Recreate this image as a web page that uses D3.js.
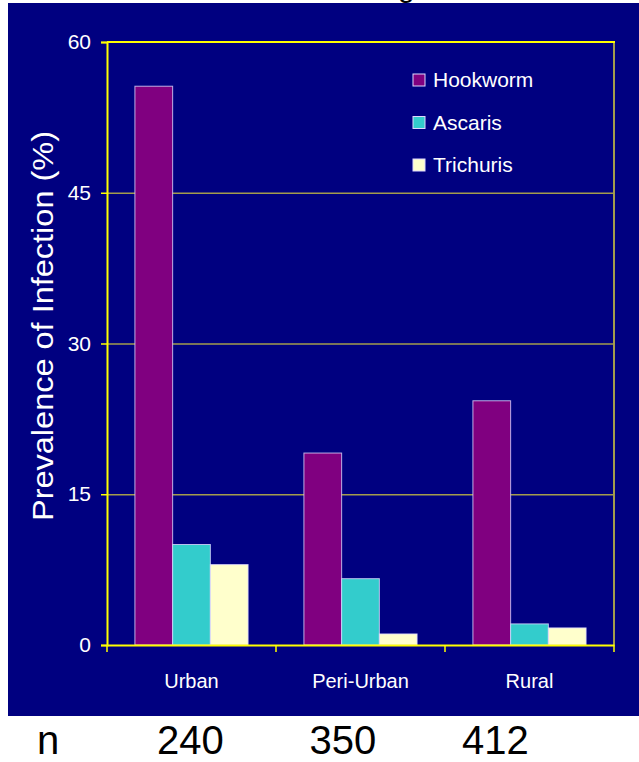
<!DOCTYPE html>
<style>

body {
  margin: 0;
  background: #fff;
}

text {
  font-family: Arial, "Liberation Sans", sans-serif;
}

</style>
<body>
<script src="https://d3js.org/d3.v7.min.js"></script>
<script>

var categories = ["Urban", "Peri-Urban", "Rural"],
    series = ["Hookworm", "Ascaris", "Trichuris"],
    colors = ["#800080", "#33cccc", "#ffffcc"];

var hookworm = [55.6, 19.1, 24.3],
    ascaris = [10.0, 6.6, 2.1],
    trichuris = [8.0, 1.1, 1.7];

var yTicks = [0, 15, 30, 45, 60],
    sampleSizes = [240, 350, 412];

var values = [hookworm, ascaris, trichuris];

var width = 639,
    height = 762;

var svg = d3.select("body").append("svg")
    .attr("width", width)
    .attr("height", height);

// the slide title is cut off, only a descender shows above the panel
svg.append("text")
    .attr("x", 398)
    .attr("y", -3)
    .attr("font-size", 30)
    .attr("fill", "#000")
    .text("g");

svg.append("rect")
    .attr("x", 8)
    .attr("y", 3)
    .attr("width", width - 8)
    .attr("height", 713)
    .attr("fill", "#000080");

var x0 = d3.scaleBand()
    .domain(categories)
    .range([107, 614]);

var x1 = d3.scaleBand()
    .domain(series)
    .range([0, x0.bandwidth()])
    .paddingOuter(0.74);

var y = d3.scaleLinear()
    .domain([0, 60])
    .range([645, 42]);

// gridlines
svg.selectAll(".grid")
    .data(yTicks.filter(function(d) { return d > 0 && d < 60; }))
  .enter().append("line")
    .attr("x1", 107)
    .attr("x2", 614)
    .attr("y1", function(d) { return y(d) + 0.5; })
    .attr("y2", function(d) { return y(d) + 0.5; })
    .attr("stroke", "#a39c4c")
    .attr("stroke-width", 1.5);

// right border
svg.append("line")
    .attr("x1", 614)
    .attr("x2", 614)
    .attr("y1", y(60))
    .attr("y2", y(0))
    .attr("stroke", "#a39c4c")
    .attr("stroke-width", 2);

// top border
svg.append("line")
    .attr("x1", 107)
    .attr("x2", 615)
    .attr("y1", y(60))
    .attr("y2", y(60))
    .attr("stroke", "#ffff00")
    .attr("stroke-width", 2);

// bars
var groups = svg.selectAll(".group")
    .data(categories)
  .enter().append("g")
    .attr("transform", function(d) { return "translate(" + x0(d) + ",0)"; });

groups.selectAll("rect")
    .data(function(d, i) {
      return series.map(function(s, j) { return {s: s, j: j, v: values[j][i]}; });
    })
  .enter().append("rect")
    .attr("x", function(d) { return x1(d.s); })
    .attr("width", x1.bandwidth())
    .attr("y", function(d) { return y(d.v); })
    .attr("height", function(d) { return y(0) - y(d.v); })
    .attr("fill", function(d) { return colors[d.j]; })
    .attr("stroke", "#ddd8ff")
    .attr("stroke-opacity", 0.8)
    .attr("stroke-width", 1);

// y axis
var yAxis = svg.append("g")
    .attr("transform", "translate(107,0)")
    .call(d3.axisLeft(y).tickValues(yTicks).tickSize(6).tickPadding(10));

yAxis.select(".domain").attr("stroke", "#ffff00").attr("stroke-width", 2);
yAxis.selectAll(".tick line").attr("stroke", "#ffff00").attr("stroke-width", 1.5);
yAxis.selectAll(".tick text")
    .attr("fill", "#fff")
    .attr("font-size", 21)
    .attr("font-family", "Arial, 'Liberation Sans', sans-serif");

// x axis
var xAxis = svg.append("g")
    .attr("transform", "translate(0," + y(0) + ")")
    .call(d3.axisBottom(x0).tickSize(0).tickPadding(29));

xAxis.select(".domain").attr("stroke", "#ffff00").attr("stroke-width", 2);
xAxis.selectAll(".tick text")
    .attr("fill", "#fff")
    .attr("font-size", 20)
    .attr("font-family", "Arial, 'Liberation Sans', sans-serif");

// category separators
xAxis.selectAll(".sep")
    .data([107, 276, 445, 614])
  .enter().append("line")
    .attr("x1", function(d) { return d; })
    .attr("x2", function(d) { return d; })
    .attr("y1", 0)
    .attr("y2", 7)
    .attr("stroke", "#ffff00")
    .attr("stroke-width", 1.5);

// y label, stretched a bit like the slide rendering
svg.append("text")
    .attr("transform", "translate(53,326) rotate(-90)")
    .attr("text-anchor", "middle")
    .attr("font-size", 30)
    .attr("textLength", 390)
    .attr("lengthAdjust", "spacingAndGlyphs")
    .attr("fill", "#fff")
    .text("Prevalence of Infection (%)");

// legend
var legend = svg.selectAll(".legend")
    .data(series)
  .enter().append("g")
    .attr("transform", function(d, i) { return "translate(413," + (80 + i * 42.5) + ")"; });

legend.append("rect")
    .attr("x", 0)
    .attr("y", -6)
    .attr("width", 12)
    .attr("height", 12)
    .attr("fill", function(d, i) { return colors[i]; })
    .attr("stroke", "#ddd8ff")
    .attr("stroke-width", 1);

legend.append("text")
    .attr("x", 20)
    .attr("y", 7)
    .attr("font-size", 21)
    .attr("fill", "#fff")
    .text(function(d) { return d; });

// sample sizes under the panel
svg.append("text")
    .attr("x", 37)
    .attr("y", 754)
    .attr("font-size", 40)
    .attr("fill", "#000")
    .text("n");

svg.selectAll(".n")
    .data(sampleSizes)
  .enter().append("text")
    .attr("x", function(d, i) { return 157 + i * 152.5; })
    .attr("y", 754)
    .attr("font-size", 40)
    .attr("fill", "#000")
    .text(function(d) { return d; });

</script>
